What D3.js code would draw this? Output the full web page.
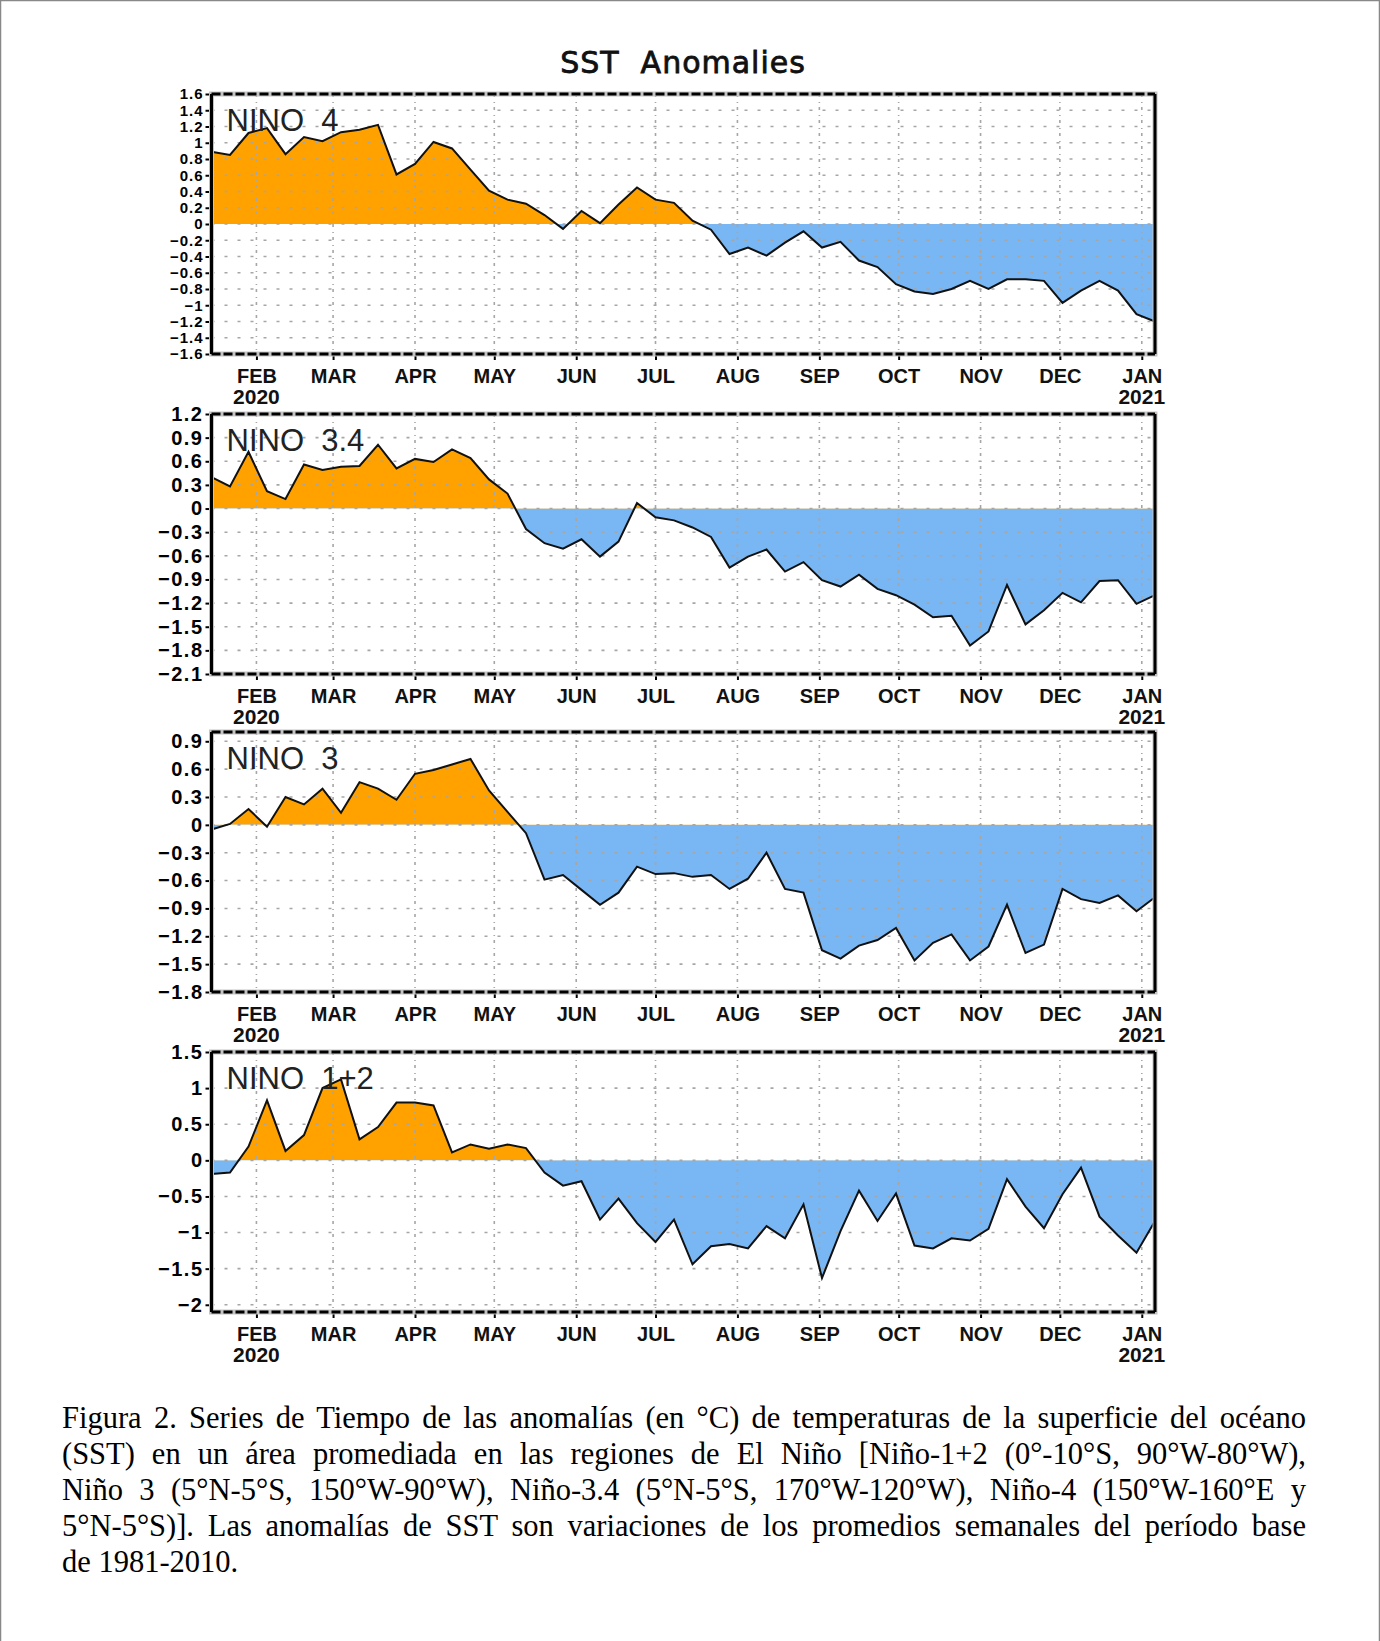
<!DOCTYPE html>
<html>
<head>
<meta charset="utf-8">
<script src="https://cdn.jsdelivr.net/npm/d3@7"></script>
<style>
  body { margin: 0; background: #fff; }
  #wrap { position: relative; width: 1380px; height: 1641px; overflow: hidden; }
  #caption {
    position: absolute; left: 62px; top: 1400px; width: 1244px;
    font-family: "Liberation Serif", "Times New Roman", serif;
    font-size: 30.5px; line-height: 36px; color: #000;
  }
  #caption div { text-align: justify; text-align-last: justify; }
  #caption div.last { text-align-last: left; }
</style>
</head>
<body>
<div id="wrap">
  <div id="chart"></div>
  <div id="caption"></div>
</div>
<script>
// Weekly dates (Wednesday centred weeks)
const weeks = [
  "2020-01-15","2020-01-22","2020-01-29","2020-02-05","2020-02-12","2020-02-19","2020-02-26",
  "2020-03-04","2020-03-11","2020-03-18","2020-03-25","2020-04-01","2020-04-08","2020-04-15",
  "2020-04-22","2020-04-29","2020-05-06","2020-05-13","2020-05-20","2020-05-27","2020-06-03",
  "2020-06-10","2020-06-17","2020-06-24","2020-07-01","2020-07-08","2020-07-15","2020-07-22",
  "2020-07-29","2020-08-05","2020-08-12","2020-08-19","2020-08-26","2020-09-02","2020-09-09",
  "2020-09-16","2020-09-23","2020-09-30","2020-10-07","2020-10-14","2020-10-21","2020-10-28",
  "2020-11-04","2020-11-11","2020-11-18","2020-11-25","2020-12-02","2020-12-09","2020-12-16",
  "2020-12-23","2020-12-30","2021-01-06"
];

// SST anomalies (degC)
const nino4 = [0.89,0.85,1.12,1.18,0.86,1.07,1.02,1.13,1.16,1.22,0.61,0.74,1.01,0.93,0.67,0.41,0.30,0.25,0.11,-0.06,
  0.16,0.01,0.24,0.45,0.30,0.26,0.04,-0.07,-0.37,-0.29,-0.39,-0.23,-0.09,-0.29,-0.22,-0.45,-0.53,-0.74,-0.83,-0.86,
  -0.80,-0.70,-0.80,-0.68,-0.68,-0.70,-0.97,-0.82,-0.70,-0.82,-1.11,-1.20];
const nino34 = [0.40,0.28,0.72,0.22,0.12,0.56,0.49,0.53,0.54,0.81,0.51,0.63,0.59,0.75,0.64,0.37,0.19,-0.26,-0.44,-0.51,
  -0.39,-0.61,-0.42,0.07,-0.11,-0.15,-0.24,-0.36,-0.75,-0.61,-0.52,-0.80,-0.68,-0.91,-0.99,-0.84,-1.02,-1.10,-1.22,-1.38,
  -1.36,-1.74,-1.56,-0.97,-1.47,-1.29,-1.07,-1.19,-0.92,-0.91,-1.21,-1.10];
const nino3 = [-0.05,0.01,0.17,-0.02,0.30,0.22,0.39,0.13,0.46,0.39,0.27,0.55,0.59,0.65,0.71,0.37,0.14,-0.09,-0.59,-0.54,
  -0.70,-0.86,-0.73,-0.45,-0.53,-0.52,-0.56,-0.54,-0.69,-0.58,-0.30,-0.69,-0.73,-1.35,-1.44,-1.30,-1.24,-1.11,-1.46,-1.27,
  -1.18,-1.46,-1.31,-0.86,-1.38,-1.29,-0.69,-0.80,-0.84,-0.76,-0.93,-0.78];
const nino12 = [-0.19,-0.17,0.19,0.83,0.13,0.35,1.00,1.12,0.29,0.46,0.80,0.80,0.76,0.11,0.22,0.16,0.22,0.17,-0.17,-0.35,
  -0.29,-0.82,-0.53,-0.87,-1.13,-0.82,-1.44,-1.19,-1.16,-1.22,-0.91,-1.08,-0.61,-1.63,-0.98,-0.42,-0.84,-0.46,-1.18,-1.22,
  -1.08,-1.11,-0.95,-0.26,-0.64,-0.94,-0.47,-0.10,-0.78,-1.04,-1.28,-0.84];

// Axis ticks
const monthTicks = ["2020-02-01","2020-03-01","2020-04-01","2020-05-01","2020-06-01","2020-07-01",
  "2020-08-01","2020-09-01","2020-10-01","2020-11-01","2020-12-01","2021-01-01"];
const monthLabels = ["FEB","MAR","APR","MAY","JUN","JUL","AUG","SEP","OCT","NOV","DEC","JAN"];
const yearLabels = [["2020-02-01","2020"],["2021-01-01","2021"]];

const ticks4  = [1.6,1.4,1.2,1,0.8,0.6,0.4,0.2,0,-0.2,-0.4,-0.6,-0.8,-1,-1.2,-1.4,-1.6];
const ticks34 = [1.2,0.9,0.6,0.3,0,-0.3,-0.6,-0.9,-1.2,-1.5,-1.8,-2.1];
const ticks3  = [0.9,0.6,0.3,0,-0.3,-0.6,-0.9,-1.2,-1.5,-1.8];
const ticks12 = [1.5,1,0.5,0,-0.5,-1,-1.5,-2];

const panelNames = ["NINO  4","NINO  3.4","NINO  3","NINO  1+2"];
const panelDomains = [[-1.6,1.6],[-2.1,1.2],[-1.8,1.0],[-2.1,1.5]];

const captionLines = [
  "Figura 2. Series de Tiempo de las anomalías (en °C) de temperaturas de la superficie del océano",
  "(SST) en un área promediada en las regiones de El Niño [Niño-1+2 (0°-10°S, 90°W-80°W),",
  "Niño 3 (5°N-5°S, 150°W-90°W), Niño-3.4 (5°N-5°S, 170°W-120°W), Niño-4 (150°W-160°E y",
  "5°N-5°S)]. Las anomalías de SST son variaciones de los promedios semanales del período base",
  "de 1981-2010."
];

function draw() {
  const width = 1380, height = 1641;
  const left = 211.5, right = 1155;
  const tops = [94, 414, 732, 1052];
  const panelHeight = 260;
  const orange = "#ffa200", blue = "#78b6f4";

  const parse = d3.utcParse("%Y-%m-%d");
  const dates = weeks.map(parse);
  const series = [nino4, nino34, nino3, nino12];
  const tickSets = [ticks4, ticks34, ticks3, ticks12];
  // the 0.2 step labels of the top panel are packed tight
  const tickFont = [15, 20, 20, 20];

  const x = d3.scaleUtc()
    .domain([dates[0], dates[dates.length - 1]])
    .range([left, right]);

  const svg = d3.select("#chart").append("svg")
    .attr("width", width)
    .attr("height", height)
    .style("position", "absolute")
    .style("left", 0).style("top", 0);

  // page border
  svg.append("path")
    .attr("d", `M0.5,${height} V0.5 H${width - 0.5} V${height}`)
    .attr("fill", "none").attr("stroke", "#888").attr("stroke-width", 1.5);

  // title
  svg.append("text")
    .attr("x", 683).attr("y", 73)
    .attr("text-anchor", "middle")
    .attr("font-family", "DejaVu Sans, sans-serif")
    .attr("font-size", 30)
    .attr("letter-spacing", 1)
    .attr("fill", "#111").attr("stroke", "#111").attr("stroke-width", 0.8)
    .attr("xml:space", "preserve")
    .text("SST  Anomalies");

  const fmt = d3.format("~g");

  series.forEach((vals, p) => {
    const top = tops[p], bottom = top + panelHeight;
    const y = d3.scaleLinear().domain(panelDomains[p]).range([bottom, top]);
    const data = vals.map((v, i) => ({date: dates[i], v: v}));
    const g = svg.append("g");

    // clips for positive / negative fill
    const idUp = "up" + p, idDn = "dn" + p;
    const defs = g.append("defs");
    defs.append("clipPath").attr("id", idUp).append("rect")
      .attr("x", left).attr("y", top).attr("width", right - left).attr("height", y(0) - top);
    defs.append("clipPath").attr("id", idDn).append("rect")
      .attr("x", left).attr("y", y(0)).attr("width", right - left).attr("height", bottom - y(0));

    const area = d3.area()
      .x(d => x(d.date))
      .y0(y(0))
      .y1(d => y(d.v));

    g.append("path").datum(data).attr("d", area)
      .attr("fill", orange).attr("clip-path", `url(#${idUp})`);
    g.append("path").datum(data).attr("d", area)
      .attr("fill", blue).attr("clip-path", `url(#${idDn})`);

    // grid
    g.append("g").selectAll("line")
      .data(tickSets[p])
      .join("line")
        .attr("x1", left).attr("x2", right)
        .attr("y1", d => y(d)).attr("y2", d => y(d))
        .attr("stroke", "#a6a6a6").attr("stroke-width", 1.6)
        .attr("stroke-dasharray", "3,10");
    g.append("g").selectAll("line")
      .data(monthTicks.map(parse))
      .join("line")
        .attr("x1", d => x(d)).attr("x2", d => x(d))
        .attr("y1", top).attr("y2", bottom)
        .attr("stroke", "#a6a6a6").attr("stroke-width", 1.6)
        .attr("stroke-dasharray", "3,5,1,4");

    // curve
    g.append("path").datum(data)
      .attr("d", d3.line().x(d => x(d.date)).y(d => y(d.v)))
      .attr("fill", "none").attr("stroke", "#111").attr("stroke-width", 2)
      .attr("stroke-linejoin", "miter");

    // y axis
    const yAxis = g.append("g")
      .attr("transform", `translate(${left},0)`)
      .call(d3.axisLeft(y).tickValues(tickSets[p]).tickFormat(fmt).tickSize(6).tickPadding(2));
    yAxis.select(".domain").remove();
    yAxis.selectAll(".tick line").attr("stroke", "#000").attr("stroke-width", 2);
    yAxis.selectAll(".tick text")
      .attr("font-family", "Liberation Sans, Arial, sans-serif")
      .attr("font-weight", "bold").attr("font-size", tickFont[p])
      .attr("letter-spacing", p === 0 ? 1 : 1.5)
      .attr("fill", "#000");

    // x axis
    const xAxis = g.append("g")
      .attr("transform", `translate(0,${bottom})`)
      .call(d3.axisBottom(x).tickValues(monthTicks.map(parse))
        .tickFormat((d, i) => monthLabels[i]).tickSize(6));
    xAxis.select(".domain").remove();
    xAxis.selectAll(".tick line").attr("stroke", "#000").attr("stroke-width", 2);
    xAxis.selectAll(".tick text")
      .attr("y", 29).attr("dy", null)
      .attr("font-family", "Liberation Sans, Arial, sans-serif")
      .attr("font-weight", "bold").attr("font-size", 20)
      .attr("fill", "#111");
    xAxis.selectAll(".year")
      .data(yearLabels)
      .join("text")
        .attr("class", "year")
        .attr("x", d => x(parse(d[0])))
        .attr("y", 50)
        .attr("text-anchor", "middle")
        .attr("font-family", "Liberation Sans, Arial, sans-serif")
        .attr("font-weight", "bold").attr("font-size", 21)
        .attr("fill", "#111")
        .text(d => d[1]);

    // frame
    g.append("rect")
      .attr("x", left).attr("y", top).attr("width", right - left).attr("height", panelHeight)
      .attr("fill", "none").attr("stroke", "#c4c4c4").attr("stroke-width", 5);
    g.append("path")
      .attr("d", `M${left},${top} V${bottom} M${right},${top} V${bottom}`)
      .attr("stroke", "#000").attr("stroke-width", 3);
    g.append("path")
      .attr("d", `M${left},${top} H${right} M${left},${bottom} H${right}`)
      .attr("stroke", "#000").attr("stroke-width", 3)
      .attr("stroke-dasharray", "9,3");

    // panel name
    g.append("text")
      .attr("x", left + 15).attr("y", top + 37)
      .attr("font-family", "Liberation Sans, Arial, sans-serif")
      .attr("font-size", 31)
      .attr("fill", "#222")
      .attr("xml:space", "preserve")
      .text(panelNames[p]);
  });

  d3.select("#caption").selectAll("div")
    .data(captionLines)
    .join("div")
      .attr("class", (d, i) => i === captionLines.length - 1 ? "last" : null)
      .text(d => d);
}

draw();
</script>
</body>
</html>
